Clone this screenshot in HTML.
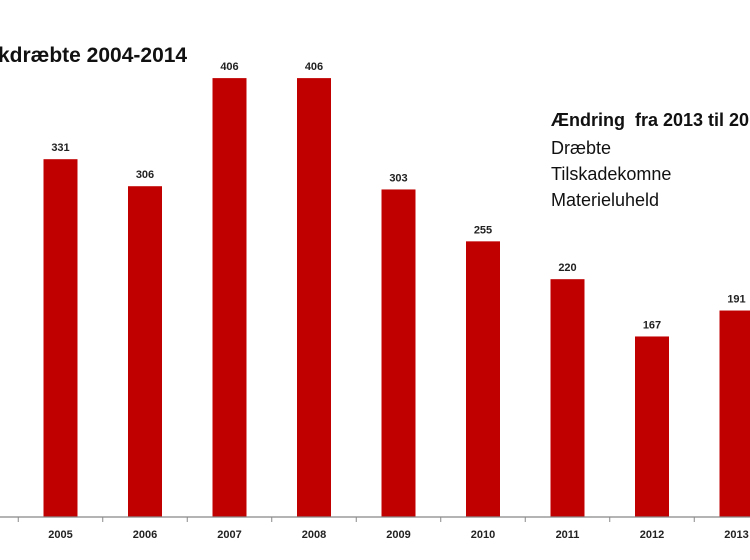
<!DOCTYPE html>
<html><head><meta charset="utf-8"><style>
body{margin:0;background:#fff;width:750px;height:560px;overflow:hidden;position:relative;font-family:"Liberation Sans",sans-serif}
.t{position:absolute;white-space:nowrap;color:#111}
</style></head><body>
<div class="t" style="left:-2px;top:44px;font-size:21px;font-weight:bold">kdræbte 2004-2014</div>
<div class="t" style="left:551px;top:110px;font-size:18px;font-weight:bold">Ændring&nbsp;&nbsp;fra 2013 til 2014</div>
<div class="t" style="left:551px;top:138px;font-size:18px">Dræbte</div>
<div class="t" style="left:551px;top:164px;font-size:18px">Tilskadekomne</div>
<div class="t" style="left:551px;top:190px;font-size:18px">Materieluheld</div>
<svg id="c" width="750" height="560" style="position:absolute;left:0;top:0"></svg>
<script>
const categories=["2005","2006","2007","2008","2009","2010","2011","2012","2013"];
const values=[331,306,406,406,303,255,220,167,191];
const svg=document.getElementById('c');const NS='http://www.w3.org/2000/svg';
const base=517,scale=1.081,x0=60.5,pitch=84.5,bw=34;
const xs=i=>x0+i*pitch, ys=v=>base-v*scale;
function mk(t,a){const e=document.createElementNS(NS,t);for(const k in a)e.setAttribute(k,a[k]);svg.appendChild(e);return e;}
categories.forEach((c,i)=>{
 const r=mk('rect',{x:xs(i)-bw/2,y:ys(values[i]),width:bw,height:values[i]*scale,fill:'#c00000'});
 
 
 const v=mk('text',{x:xs(i),y:ys(values[i])-8,'text-anchor':'middle','font-size':'11','font-weight':'bold',fill:'#222','font-family':'Liberation Sans'});
 v.textContent=values[i];
 
 
 const l=mk('text',{x:xs(i),y:base+21,'text-anchor':'middle','font-size':'11','font-weight':'bold',fill:'#222','font-family':'Liberation Sans'});
 l.textContent=c;
 
 
});
const ax=mk('line',{x1:0,x2:750,y1:base,y2:base,stroke:'#888','stroke-width':1.2});


for(let i=0;i<=9;i++){const x=xs(i)-pitch/2;const t=mk('line',{x1:x,x2:x,y1:base,y2:base+5,stroke:'#888'});
 
 }
</script>
</body></html>
